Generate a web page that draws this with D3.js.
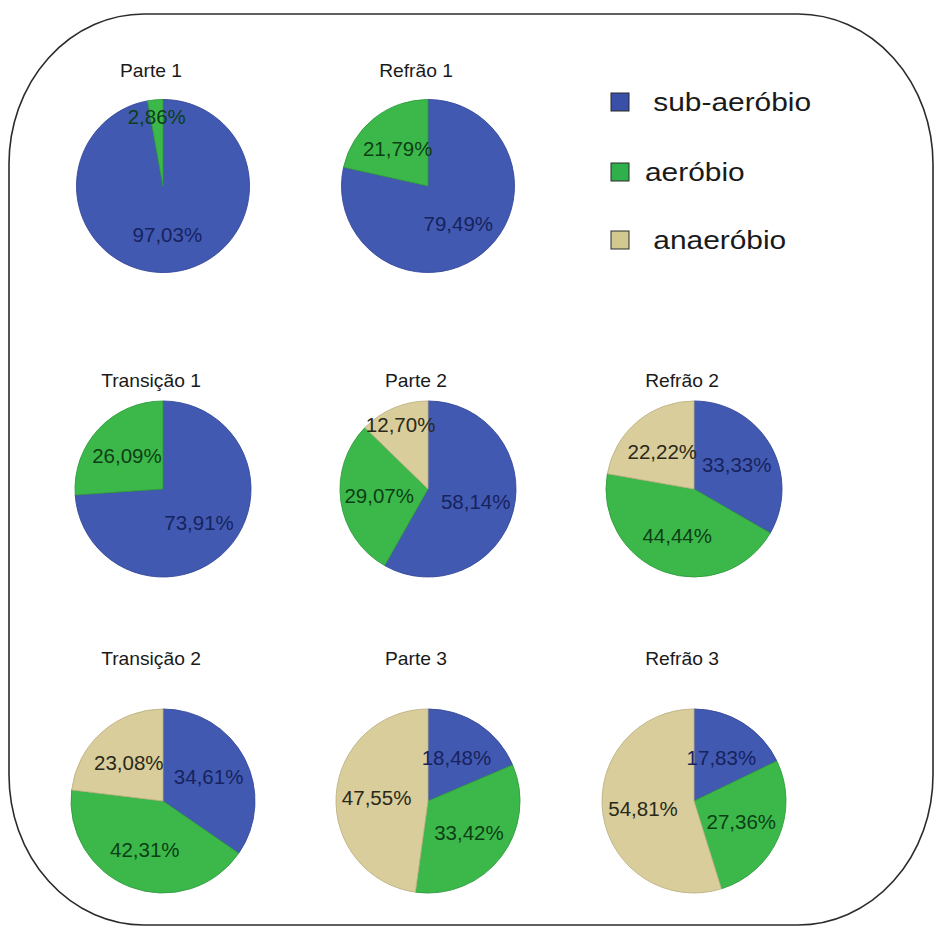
<!DOCTYPE html>
<html>
<head>
<meta charset="utf-8">
<script src="https://cdn.jsdelivr.net/npm/d3@7"></script>
<style>
  html, body { margin: 0; padding: 0; background: #fff; }
  svg { display: block; }
  text { font-family: "Liberation Sans", Arial, sans-serif; }
</style>
</head>
<body>
<svg id="chart" width="934" height="927"></svg>
<script>
// Song sections, one pie each
const sections = ["Parte 1", "Refrão 1", "Transição 1", "Parte 2", "Refrão 2",
                  "Transição 2", "Parte 3", "Refrão 3"];
// Energy system categories
const categories = ["sub-aeróbio", "aeróbio", "anaeróbio"];
// Percentages per section
const subAerobio = [97.03, 79.49, 73.91, 58.14, 33.33, 34.61, 18.48, 17.83];
const aerobio    = [2.86, 21.79, 26.09, 29.07, 44.44, 42.31, 33.42, 27.36];
const anaerobio  = [0, 0, 0, 12.70, 22.22, 23.08, 47.55, 54.81];

const series = [subAerobio, aerobio, anaerobio];

const fill   = d3.scaleOrdinal().domain(categories).range(["#4259b1", "#3cb84b", "#d8cd9b"]);
const edge   = d3.scaleOrdinal().domain(categories).range(["#34479a", "#2f9c3d", "#bdb283"]);
const ink    = d3.scaleOrdinal().domain(categories).range(["#16235e", "#0c3f15", "#2a2818"]);
const swatch = d3.scaleOrdinal().domain(categories).range(["#3a4fa8", "#2fb04a", "#d2c991"]);

const ptBR = d3.formatLocale({ decimal: ",", thousands: ".", grouping: [3], currency: ["", ""] });
const fmt = v => ptBR.format(".2f")(v) + "%";

const svg = d3.select("#chart");

// rounded frame
svg.append("rect")
  .attr("x", 9).attr("y", 14)
  .attr("width", 924).attr("height", 911)
  .attr("rx", 135).attr("ry", 150)
  .attr("fill", "#fff")
  .attr("stroke", "#2b2b2b")
  .attr("stroke-width", 1.6);

// 3x3 grid; the top-right cell holds the legend
const colX = d3.scaleOrdinal().domain([0, 1, 2]).range([163, 428, 694]);
const rowY = d3.scaleOrdinal().domain([0, 1, 2]).range([186, 489, 801]);
const titleY = d3.scaleOrdinal().domain([0, 1, 2]).range([77, 387, 665]);
const radius = d3.scaleOrdinal().domain([0, 1, 2]).range([86.5, 88, 92]);

const pie = d3.pie().sort(null).value(d => d.value);

sections.forEach((name, i) => {
  const slot = i < 2 ? i : i + 1;
  const col = slot % 3, row = Math.floor(slot / 3);
  const cx = colX(col), cy = rowY(row), r = radius(row);

  const rows = categories.map((c, k) => ({ cat: c, value: series[k][i] }))
                         .filter(d => d.value > 0);
  const total = d3.sum(rows, d => d.value);
  const arcs = pie(rows);
  const arc = d3.arc().innerRadius(0).outerRadius(r);

  const g = svg.append("g").attr("transform", `translate(${cx},${cy})`);

  g.selectAll("path.slice")
    .data(arcs)
    .join("path")
    .attr("class", "slice")
    .attr("d", arc)
    .attr("fill", d => fill(d.data.cat))
    .attr("stroke", d => edge(d.data.cat))
    .attr("stroke-width", 0.9);

  g.selectAll("text.val")
    .data(arcs)
    .join("text")
    .attr("class", "val")
    .attr("transform", d => {
      const lr = (d.data.value / total < 0.15 ? 0.8 : 0.56) * r;
      const [x, y] = d3.arc().innerRadius(lr).outerRadius(lr).centroid(d);
      return `translate(${x},${y})`;
    })
    .attr("text-anchor", "middle")
    .attr("dy", "0.36em")
    .attr("font-size", 20.5)
    .attr("fill", d => ink(d.data.cat))
    .text(d => fmt(d.data.value));

  svg.append("text")
    .attr("transform", `translate(${cx - 12},${titleY(row)}) scale(1.1,1)`)
    .attr("text-anchor", "middle")
    .attr("font-size", 17.5)
    .attr("fill", "#1a1a1a")
    .text(name);
});

// legend
const legendLabels = [" sub-aeróbio", "aeróbio", " anaeróbio"];
const legend = svg.append("g");
const legY = d3.scaleOrdinal().domain(categories).range([102, 172, 240]);
categories.forEach((c, k) => {
  legend.append("rect")
    .attr("x", 611).attr("y", legY(c) - 9)
    .attr("width", 18).attr("height", 18)
    .attr("fill", swatch(c))
    .attr("stroke", "#2a2a2a")
    .attr("stroke-width", 1);
  legend.append("text")
    .attr("transform", `translate(645,${legY(c)}) scale(1.15,1)`)
    .attr("dy", "0.36em")
    .attr("font-size", 26)
    .attr("fill", "#1a1a1a")
    .style("white-space", "pre")
    .text(legendLabels[k]);
});
</script>
</body>
</html>
